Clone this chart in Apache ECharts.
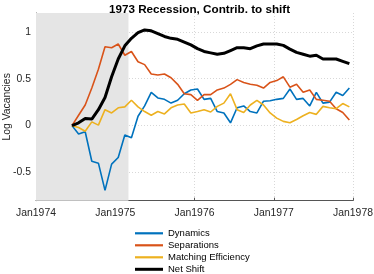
<!DOCTYPE html>
<html>
<head>
<meta charset="utf-8">
<script src="https://cdn.jsdelivr.net/npm/echarts@6/dist/echarts.min.js"></script>
<style>html,body{margin:0;padding:0;background:#fff;}#c{width:374px;height:274px;}</style>
</head>
<body>
<div id="c"></div>
<script>
// months since Jan 1974 of the first observation; one point per month
var startMonth = 5.45;
var tickLabels = ['Jan1974', 'Jan1975', 'Jan1976', 'Jan1977', 'Jan1978'];
var recession = [0, 14]; // shaded period, months since Jan 1974
var seriesNames = ['Dynamics', 'Separations', 'Matching Efficiency', 'Net Shift'];

var dynamics = [0, -0.09, -0.065, -0.38, -0.40, -0.69, -0.41, -0.34, -0.10, -0.13,
  0.10, 0.21, 0.355, 0.295, 0.28, 0.24, 0.27, 0.34, 0.38, 0.39,
  0.28, 0.29, 0.15, 0.135, 0.03, 0.19, 0.21, 0.15, 0.135, 0.26,
  0.265, 0.28, 0.29, 0.39, 0.28, 0.29, 0.21, 0.355, 0.24, 0.25,
  0.355, 0.32, 0.40];
var separations = [0, 0.11, 0.22, 0.40, 0.60, 0.84, 0.83, 0.87, 0.75, 0.79,
  0.68, 0.65, 0.55, 0.54, 0.55, 0.51, 0.44, 0.34, 0.33, 0.27,
  0.33, 0.33, 0.38, 0.40, 0.44, 0.49, 0.46, 0.44, 0.43, 0.40,
  0.46, 0.48, 0.52, 0.41, 0.44, 0.355, 0.38, 0.28, 0.27, 0.26,
  0.18, 0.14, 0.06];
var matching = [0, -0.02, -0.06, 0.04, 0.005, 0.17, 0.135, 0.19, 0.20, 0.27,
  0.20, 0.15, 0.11, 0.15, 0.125, 0.19, 0.22, 0.23, 0.135, 0.15,
  0.17, 0.145, 0.205, 0.24, 0.34, 0.17, 0.14, 0.22, 0.27, 0.22,
  0.135, 0.08, 0.045, 0.03, 0.065, 0.105, 0.14, 0.12, 0.205, 0.19,
  0.18, 0.235, 0.20];
var netShift = [0, 0.03, 0.075, 0.07, 0.17, 0.30, 0.52, 0.71, 0.85, 0.93,
  0.99, 1.02, 1.01, 0.98, 0.95, 0.93, 0.92, 0.89, 0.86, 0.82,
  0.79, 0.775, 0.76, 0.77, 0.80, 0.83, 0.83, 0.82, 0.85, 0.87,
  0.87, 0.87, 0.855, 0.815, 0.78, 0.76, 0.74, 0.75, 0.71, 0.71,
  0.71, 0.685, 0.66];
var yTicks = [-0.5, 0, 0.5, 1];

function pairs(arr) {
  return arr.map(function (v, i) { return [startMonth + i, v]; });
}
var colors = ['#0072BD', '#D95319', '#EDB120', '#000000'];
var widths = [1.6, 1.6, 1.6, 3];
var allData = [dynamics, separations, matching, netShift];

var series = [{
  type: 'line', name: '_shade', data: [], silent: true, z: 1,
  markArea: {
    silent: true,
    itemStyle: { color: '#e5e5e5' },
    data: [[{ xAxis: recession[0] }, { xAxis: recession[1] }]]
  }
}];
seriesNames.forEach(function (n, k) {
  series.push({
    type: 'line', name: n, data: pairs(allData[k]), symbol: 'none', z: 3 + k,
    lineStyle: { color: colors[k], width: widths[k] },
    itemStyle: { color: colors[k] }
  });
});

var legendText = { fontFamily: 'Liberation Sans', fontSize: 9.5, color: '#000', lineHeight: 12 };
var chart = echarts.init(document.getElementById('c'), null, { renderer: 'canvas' });
chart.setOption({
  animation: false,
  title: {
    text: '1973 Recession, Contrib. to shift',
    left: 194.5, textAlign: 'center', top: -1,
    textStyle: { fontFamily: 'Liberation Sans', fontSize: 11.7, fontWeight: 'bold', color: '#000' }
  },
  grid: { left: 36, right: 21, top: 13, bottom: 73.3, containLabel: false, outerBoundsMode: 'none' },
  legend: [{
    data: seriesNames.slice(0, 3), orient: 'vertical', left: 135, top: 227.3, padding: 0,
    itemWidth: 28, itemHeight: 2.2, itemGap: 0, icon: 'rect', textStyle: legendText
  }, {
    data: seriesNames.slice(3), orient: 'vertical', left: 135, top: 263.3, padding: 0,
    itemWidth: 28, itemHeight: 3, itemGap: 0, icon: 'rect', textStyle: legendText
  }],
  xAxis: {
    type: 'value', min: 0, max: 48, interval: 12,
    axisLine: { onZero: false, lineStyle: { color: '#555' } },
    axisTick: { inside: true, length: 3, lineStyle: { color: '#555' } },
    axisLabel: {
      margin: 7, color: '#262626', fontFamily: 'Liberation Sans', fontSize: 10.4,
      formatter: function (v) { return tickLabels[Math.round(v / 12)]; }
    },
    splitLine: { show: true, lineStyle: { color: '#d8d8d8', type: [1, 2] } }
  },
  yAxis: {
    type: 'value', min: -0.8, max: 1.2,
    name: 'Log Vacancies', nameLocation: 'middle', nameGap: 24, nameMoveOverlap: false,
    nameTextStyle: { fontFamily: 'Liberation Sans', fontSize: 10.4, color: '#262626' },
    axisLine: { show: true, onZero: false, lineStyle: { color: '#555' } },
    axisTick: { show: true, inside: true, length: 3, customValues: yTicks, lineStyle: { color: '#555' } },
    axisLabel: {
      margin: 5, color: '#262626', fontFamily: 'Liberation Sans', fontSize: 10.4,
      customValues: yTicks,
      formatter: function (v) { return String(v); }
    },
    splitLine: { show: true, lineStyle: { color: '#d8d8d8', type: [1, 2] } }
  },
  series: series
});
</script>
</body>
</html>
